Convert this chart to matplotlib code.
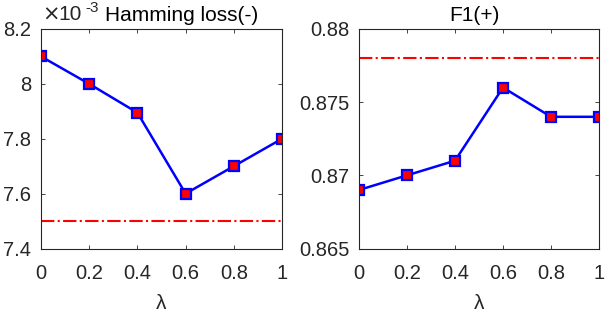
import numpy as np
import matplotlib.pyplot as plt

plt.rcParams['font.family'] = ['Liberation Sans', 'DejaVu Sans']

lam = [0, 0.2, 0.4, 0.6, 0.8, 1]
hamming = [8.1, 8.0, 7.895, 7.6, 7.7, 7.8]
hamming_base = 7.5
f1 = [0.869, 0.870, 0.871, 0.876, 0.874, 0.874]
f1_base = 0.878
xticks = [0, 0.2, 0.4, 0.6, 0.8, 1]
xticklabels = ["0", "0.2", "0.4", "0.6", "0.8", "1"]

W, H = 606, 312
fig = plt.figure(figsize=(W / 100, H / 100), dpi=100)
ax1 = fig.add_axes([41/W, 63.5/H, 241/W, 219.5/H])
ax2 = fig.add_axes([359/W, 63.5/H, 240/W, 219.5/H])

fs = 14.5
tc = "#262626"

def style(ax):
    ax.set_xlim(0, 1)
    ax.set_xticks(xticks)
    ax.set_xticklabels(xticklabels)
    ax.tick_params(direction="in", top=True, right=True, labelsize=fs, length=3,
                   width=0.6, color=tc, labelcolor=tc)
    ax.tick_params(axis="x", pad=11)
    ax.tick_params(axis="y", pad=7)
    for s in ax.spines.values():
        s.set_linewidth(0.8)
        s.set_color(tc)
    ax.set_xlabel("λ", fontsize=15, color=tc, labelpad=8)

def ptext(x, y, s, **kw):
    # place text in pixel coords from top-left
    fig.text(x / W, (H - y) / H, s, va="baseline", **kw)

# Hamming loss
ax1.axhline(hamming_base, color="red", linestyle="-.", linewidth=1.5)
ax1.plot(lam, hamming, "-s", color="blue", linewidth=1.8, markersize=6.5,
         markerfacecolor="red", markeredgecolor="blue", markeredgewidth=1.6)
ax1.set_ylim(7.4, 8.2)
ax1.set_yticks([7.4, 7.6, 7.8, 8.0, 8.2])
ax1.set_yticklabels(["7.4", "7.6", "7.8", "8", "8.2"])
style(ax1)
ptext(42, 20.5, "×", fontsize=15, color=tc, ha="left", family="DejaVu Sans")
ptext(58, 20.5, "10", fontsize=15, color=tc, ha="left")
ptext(85.5, 12, "-3", fontsize=11, color=tc, ha="left")
ptext(182, 21, "Hamming loss(-)", fontsize=15, color="black", ha="center")

# F1
ax2.axhline(f1_base, color="red", linestyle="-.", linewidth=1.5)
ax2.plot(lam, f1, "-s", color="blue", linewidth=1.8, markersize=6.5,
         markerfacecolor="red", markeredgecolor="blue", markeredgewidth=1.6)
ax2.set_ylim(0.865, 0.88)
ax2.set_yticks([0.865, 0.87, 0.875, 0.88])
ax2.set_yticklabels(["0.865", "0.87", "0.875", "0.88"])
style(ax2)
ptext(474, 21, "F1(+)", fontsize=15, color="black", ha="center")

plt.savefig("out.png", dpi=100)
